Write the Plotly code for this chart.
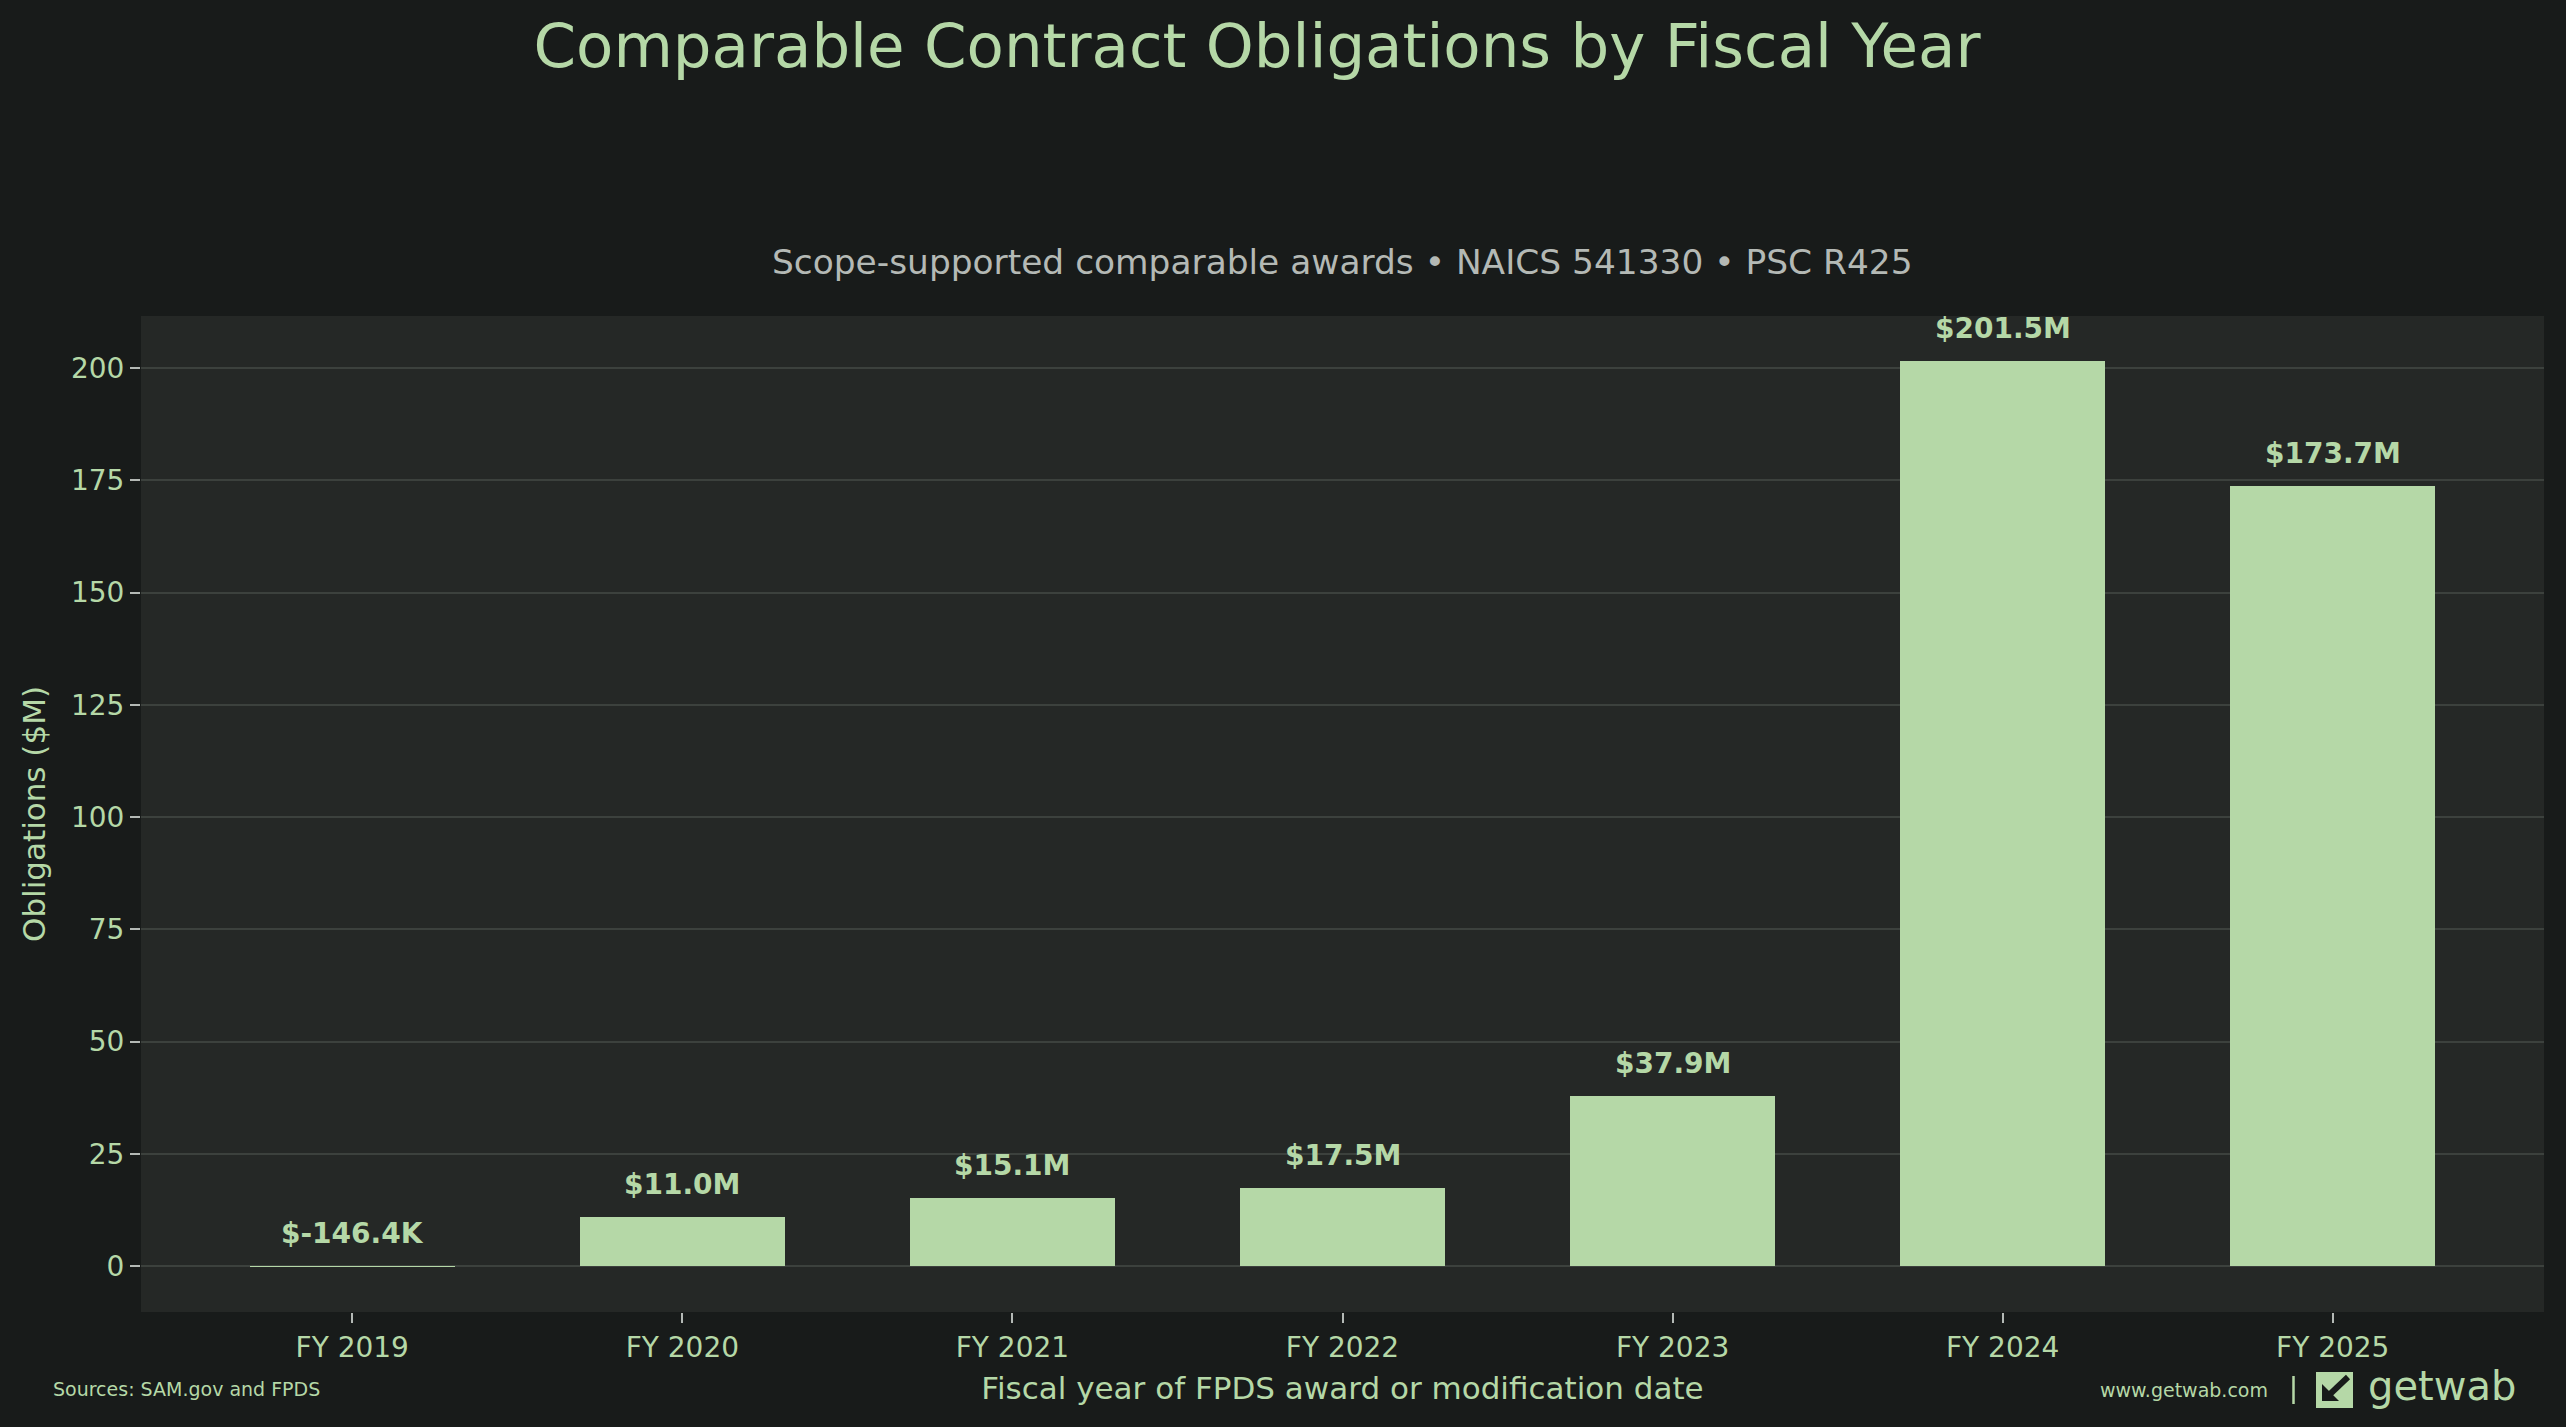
import plotly.graph_objects as go

# Chart data ($M)
fiscal_years = ["FY 2019", "FY 2020", "FY 2021", "FY 2022", "FY 2023", "FY 2024", "FY 2025"]
obligations_m = [-0.1464, 11.0, 15.1, 17.5, 37.9, 201.5, 173.7]
y_ticks = [0, 25, 50, 75, 100, 125, 150, 175, 200]

# Colors
BG = "#181b1a"
PLOT_BG = "#252826"
GREEN = "#b5d8a7"
GREY = "#b4b9b5"
GRID = "#3c413d"

W, H = 2566, 1427
L, R, T, B = 141, 22, 316, 115


def px(x, y):
    # pixel position -> paper coords
    return (x - L) / (W - L - R), (H - B - y) / (H - T - B)


def money(v):
    if abs(v) < 1:
        return f"${v * 1000:.1f}K"
    return f"${v:.1f}M"


fig = go.Figure()
fig.add_trace(go.Bar(
    x=fiscal_years,
    y=obligations_m,
    width=0.62,
    marker_color=GREEN,
    marker_line_width=0,
    hoverinfo="x+y",
))

# value labels above bars
for fy, v in zip(fiscal_years, obligations_m):
    fig.add_annotation(
        x=fy, y=max(v, 0), text=f"<b>{money(v)}</b>",
        showarrow=False, yanchor="bottom", yshift=14,
        font=dict(family="DejaVu Sans", size=28, color=GREEN),
    )

# subtitle
sx, sy = px(1342, 262)
fig.add_annotation(
    xref="paper", yref="paper", x=0.5, y=sy,
    text="Scope-supported comparable awards • NAICS 541330 • PSC R425",
    showarrow=False, xanchor="center", yanchor="middle",
    font=dict(family="DejaVu Sans", size=34.4, color=GREY),
)

# footer
fx, fy_ = px(51, 1389)
fig.add_annotation(
    xref="paper", yref="paper", x=fx, y=fy_, text="Sources: SAM.gov and FPDS",
    showarrow=False, xanchor="left", yanchor="middle",
    font=dict(family="DejaVu Sans", size=19, color=GREEN),
)
wx, wy = px(2270, 1390)
fig.add_annotation(
    xref="paper", yref="paper", x=wx, y=wy, text="www.getwab.com",
    showarrow=False, xanchor="right", yanchor="middle",
    font=dict(family="DejaVu Sans", size=19, color=GREEN),
)
bx0, by0 = px(2293.5, 1376)
bx1, by1 = px(2293.5, 1404)
fig.add_shape(type="line", xref="paper", yref="paper", x0=bx0, y0=by0, x1=bx1, y1=by1,
              line=dict(color=GREEN, width=2.5), layer="above")
gx, gy = px(2366, 1386)
fig.add_annotation(
    xref="paper", yref="paper", x=gx, y=gy, text="getwab",
    showarrow=False, xanchor="left", yanchor="middle",
    font=dict(family="DejaVu Sans", size=40, color=GREEN),
)

# logo icon: green square with a dark arrow pointing down-left
x0, y0 = px(2316, 1408)
x1, y1 = px(2353, 1372)
fig.add_shape(type="rect", xref="paper", yref="paper", x0=x0, y0=y0, x1=x1, y1=y1,
              fillcolor=GREEN, line_width=0, layer="above")
ax0, ay0 = px(2328, 1396)
ax1, ay1 = px(2348, 1377)
fig.add_shape(type="line", xref="paper", yref="paper", x0=ax0, y0=ay0, x1=ax1, y1=ay1,
              line=dict(color=BG, width=6), layer="above")
p1 = px(2322, 1384)
p2 = px(2322, 1401)
p3 = px(2339, 1401)
fig.add_shape(type="path", xref="paper", yref="paper",
              path=f"M {p1[0]},{p1[1]} L {p2[0]},{p2[1]} L {p3[0]},{p3[1]} Z",
              fillcolor=BG, line_width=0, layer="above")

fig.update_layout(
    width=W, height=H,
    paper_bgcolor=BG,
    plot_bgcolor=PLOT_BG,
    margin=dict(l=L, r=R, t=T, b=B, autoexpand=False),
    title=dict(
        text="Comparable Contract Obligations by Fiscal Year",
        x=1257 / W, xanchor="center", xref="container",
        y=1 - 46 / H, yanchor="middle", yref="container",
        font=dict(family="DejaVu Sans", size=61, color=GREEN),
    ),
    font=dict(family="DejaVu Sans", color=GREEN),
    showlegend=False,
    bargap=0,
)

fig.update_xaxes(
    range=[-0.64, 6.64],
    showgrid=False, zeroline=False, showline=False,
    ticks="outside", ticklen=10, tickwidth=1.5, tickcolor=GREY,
    tickfont=dict(size=28, color=GREEN),
    title=dict(text="Fiscal year of FPDS award or modification date",
               font=dict(size=31, color=GREEN), standoff=14),
)
fig.update_yaxes(
    range=[-10.2, 211.6],
    tickvals=y_ticks,
    showgrid=True, gridcolor=GRID, gridwidth=1.5,
    zeroline=False, showline=False,
    ticks="outside", ticklen=10, tickwidth=1.5, tickcolor=GREY,
    tickfont=dict(size=28, color=GREEN),
    title=dict(text="Obligations ($M)", font=dict(size=31, color=GREEN), standoff=16),
)

fig.write_html("out.html", config={"displayModeBar": False},
               post_script="document.body.style.margin='0';document.body.style.background='%s';" % BG)
